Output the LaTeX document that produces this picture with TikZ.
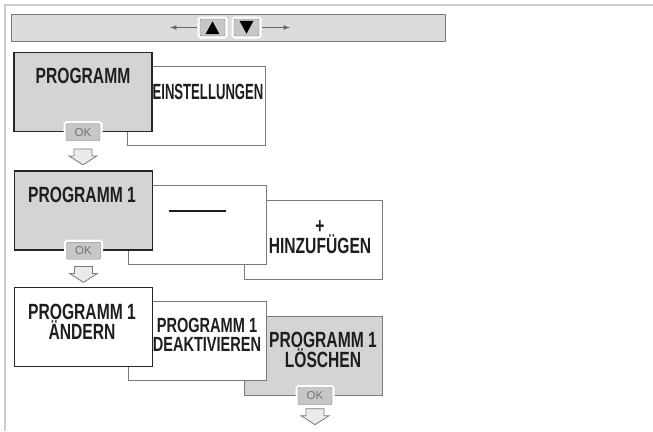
\documentclass[tikz,border=0pt]{standalone}
\usepackage{graphicx,color}
\usepackage{fontspec}
\setmainfont{Liberation Sans}[FakeStretch=0.71]
\newfontfamily\okfont{Liberation Sans}
\usepackage{pgf,tikz}
\usetikzlibrary{arrows,positioning}

\definecolor{panelgray}{HTML}{D4D4D4}
\definecolor{bargray}{HTML}{DCDCDC}
\definecolor{edgegray}{HTML}{7A7A7A}
\definecolor{framegray}{HTML}{CDCDCD}
\definecolor{inkgray}{HTML}{1E1E1E}

\tikzset{
  card/.style={draw=edgegray, fill=white, line width=1pt, minimum width=138pt, minimum height=79pt, inner sep=0pt},
  activecard/.style={card, draw=black!85, fill=panelgray, line width=1.4pt},
  cardtext/.style={font=\bfseries\fontsize{22}{20}\selectfont, text=inkgray, align=center, inner sep=0pt},
  okbutton/.style={draw=edgegray, fill=black!22, rounded corners=1pt, minimum width=34pt, minimum height=17pt, inner sep=0pt,
    font=\okfont\fontsize{11.5}{11}\selectfont, text=black!55, preaction={draw=white, line width=5pt}},
  keybutton/.style={okbutton, minimum width=25pt},
  keyline/.style={draw=black!60, line width=1.2pt, -latex, shorten <=3pt},
  downarrow/.style={draw=edgegray, fill=black!8, line width=0.8pt, line join=miter},
}

\begin{document}
\begin{tikzpicture}[x=1pt,y=-1pt]
 \useasboundingbox (0,0) rectangle (653,431);
 \draw[framegray,line width=1.5pt] (5,431) -- (5,5) -- (653,5);

 % key bar
 \node[draw=edgegray, fill=bargray, line width=1pt, minimum width=434pt, minimum height=27pt] (bar) at (228,27.5) {};
 \node[keybutton] (up) at (212.5,27.5) {};
 \node[keybutton] (down) at (246.5,27.5) {};
 \fill[black] ([yshift=-2.5pt]up.north) -- ([shift={(7pt,2pt)}]up.south) -- ([shift={(-7pt,2pt)}]up.south) -- cycle;
 \fill[black] ([yshift=2.5pt]down.south) -- ([shift={(7pt,-2pt)}]down.north) -- ([shift={(-7pt,-2pt)}]down.north) -- cycle;
 \coordinate (lt) at (170,27.5);
 \coordinate (rt) at (290,27.5);
 \draw[keyline] (up.west) -- (lt);
 \draw[keyline] (down.east) -- (rt);

 % row 1
 \node[card] (einst) at (196,106) {};
 \node[activecard] (prog) at (83,92) {};
 \node[cardtext] (progtext) at (83,76) {PROGRAMM};
 \node[cardtext] (einsttext) at (208,92) {\scalebox{0.84}[1]{EINSTELLUNGEN}};
 \node[okbutton] (ok1) at (prog.south) {OK};
 \coordinate[below=8pt of ok1.south] (dn1);
 \draw[downarrow] (dn1) ++(-9,0) -- ++(18,0) -- ++(0,7) -- ++(5,0) -- ++(-14,9) -- ++(-14,-9) -- ++(5,0) -- cycle;

 % row 2
 \node[card] (add) at (313,239.5) {};
 \node[card] (empty) at (197.5,225) {};
 \node[activecard] (prog1) at (83.5,210.5) {};
 \node[cardtext] (prog1text) at (82,195) {PROGRAMM 1};
 \node[cardtext] (emptytext) at (197,211) {\rule{57pt}{2pt}};
 \node[cardtext] (addtext) at (320,237) {+\\HINZUFÜGEN};
 \node[okbutton] (ok2) at (prog1.south) {OK};
 \coordinate[below=7pt of ok2.south] (dn2);
 \draw[downarrow] (dn2) ++(-9,0) -- ++(18,0) -- ++(0,7) -- ++(5,0) -- ++(-14,9) -- ++(-14,-9) -- ++(5,0) -- cycle;

 % row 3
 \node[card, fill=panelgray] (del) at (313,356) {};
 \node[card] (deact) at (197.5,340.5) {};
 \node[card, draw=black!85, line width=1.4pt] (edit) at (83.5,327) {};
 \node[cardtext] (edittext) at (82,322) {PROGRAMM 1\\ÄNDERN};
 \node[cardtext, font=\bfseries\fontsize{20.5}{19}\selectfont] (deacttext) at (207,335) {PROGRAMM 1\\DEAKTIVIEREN};
 \node[cardtext] (deltext) at (323,350) {PROGRAMM 1\\LÖSCHEN};
 \node[okbutton] (ok3) at ([xshift=2pt]del.south) {OK};
 \coordinate[below=4pt of ok3.south] (dn3);
 \draw[downarrow] (dn3) ++(-9,0) -- ++(18,0) -- ++(0,7) -- ++(5,0) -- ++(-14,9) -- ++(-14,-9) -- ++(5,0) -- cycle;
\end{tikzpicture}
\end{document}
